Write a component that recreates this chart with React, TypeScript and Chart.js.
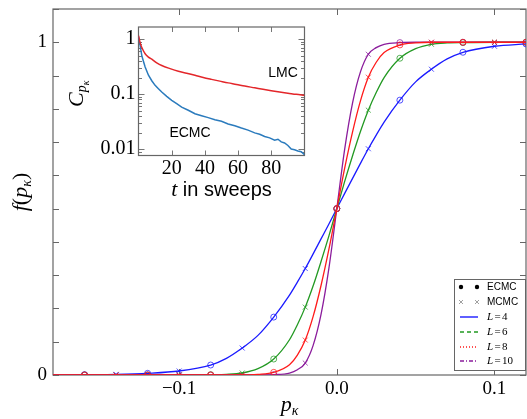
import { useEffect, useRef } from "react";
import { Chart, registerables } from "chart.js";

Chart.register(...registerables);

// ---------- main chart data ----------
const pGrid = [-0.18, -0.16, -0.14, -0.12, -0.1, -0.08, -0.07, -0.06, -0.05, -0.04, -0.03, -0.025, -0.02, -0.015, -0.01, -0.005, 0, 0.005, 0.01, 0.015, 0.02, 0.025, 0.03, 0.04, 0.05, 0.06, 0.07, 0.08, 0.1, 0.12];
const fL4 = [0, 0.001, 0.002, 0.005, 0.012, 0.03, 0.05, 0.081, 0.119, 0.174, 0.24, 0.279, 0.32, 0.364, 0.409, 0.454, 0.5, 0.546, 0.591, 0.636, 0.68, 0.721, 0.76, 0.826, 0.881, 0.919, 0.95, 0.97, 0.988, 0.995];
const fL6 = [0, 0, 0, 0, 0, 0.001, 0.002, 0.006, 0.019, 0.048, 0.106, 0.151, 0.204, 0.268, 0.341, 0.418, 0.5, 0.582, 0.659, 0.732, 0.796, 0.849, 0.894, 0.952, 0.981, 0.994, 0.998, 0.999, 1, 1];
const fL8 = [0, 0, 0, 0, 0, 0, 0, 0, 0.002, 0.008, 0.031, 0.06, 0.105, 0.176, 0.269, 0.378, 0.5, 0.622, 0.731, 0.824, 0.895, 0.94, 0.969, 0.992, 0.998, 1, 1, 1, 1, 1];
const fL10 = [0, 0, 0, 0, 0, 0, 0, 0, 0, 0.001, 0.006, 0.016, 0.036, 0.089, 0.182, 0.321, 0.5, 0.679, 0.818, 0.911, 0.964, 0.984, 0.994, 0.999, 1, 1, 1, 1, 1, 1];

const ecmcP = [-0.16, -0.12, -0.08, -0.04, 0, 0.04, 0.08, 0.12];
const mcmcP = [-0.14, -0.1, -0.06, -0.02, 0.02, 0.06, 0.1];
const ecmcL4 = [0.001, 0.005, 0.03, 0.174, 0.5, 0.826, 0.97, 0.995];
const mcmcL4 = [0.002, 0.012, 0.081, 0.32, 0.68, 0.919, 0.988];
const ecmcL6 = [0, 0, 0.001, 0.048, 0.5, 0.952, 0.999, 1];
const mcmcL6 = [0, 0, 0.006, 0.204, 0.796, 0.994, 1];
const ecmcL8 = [0, 0, 0, 0.008, 0.5, 0.992, 1, 1];
const mcmcL8 = [0, 0, 0, 0.105, 0.895, 1, 1];
const ecmcL10 = [0, 0, 0, 0.001, 0.5, 0.999, 1, 1];
const mcmcL10 = [0, 0, 0, 0.036, 0.964, 1, 1];

const sizeLabels = ["4", "6", "8", "10"];
const methodLabels = ["ECMC", "MCMC"];

const xTickValues = [-0.1, 0, 0.1];
const xTickLabels = ["\u22120.1", "0.0", "0.1"];
const yTickValues = [0, 1];
const yTickLabels = ["0", "1"];
const yInnerTicks = [0, 0.1, 0.2, 0.3, 0.4, 0.5, 0.6, 0.7, 0.8, 0.9, 1, 1.1];

// ---------- inset data ----------
const lmcT = [0, 1, 2, 4, 6, 8, 11, 14, 19, 24, 29, 34, 39, 44, 49, 54, 59, 64, 70, 75, 80, 85, 90, 95, 100];
const lmcC = [1.15, 0.85, 0.7, 0.54, 0.47, 0.43, 0.37, 0.33, 0.29, 0.26, 0.24, 0.22, 0.2, 0.185, 0.172, 0.16, 0.15, 0.14, 0.13, 0.122, 0.115, 0.109, 0.104, 0.099, 0.095];
const ecmcT = [0, 1, 2, 3, 4, 6, 8, 10, 12, 14, 17, 20, 23, 26, 30, 34, 38, 42, 46, 50, 54, 58, 62, 66, 70, 73, 76, 79, 82, 84, 86, 88, 90, 92, 94, 96, 98, 100];
const ecmcC = [1.1, 0.76, 0.5, 0.39, 0.31, 0.22, 0.175, 0.144, 0.125, 0.109, 0.091, 0.077, 0.067, 0.058, 0.051, 0.044, 0.0405, 0.0375, 0.0342, 0.0322, 0.0288, 0.0266, 0.0242, 0.0222, 0.0198, 0.0187, 0.017, 0.0161, 0.0146, 0.0152, 0.0136, 0.013, 0.0117, 0.0101, 0.0098, 0.0093, 0.0090, 0.0080];
const insetXTicks = [20, 40, 60, 80];
const insetXTickLabels = ["20", "40", "60", "80"];
const insetYTicks = [0.01, 0.1, 1];
const insetYTickLabels = ["0.01", "0.1", "1"];
const insetYMinor = [0.008, 0.009, 0.02, 0.03, 0.04, 0.05, 0.06, 0.07, 0.08, 0.09, 0.2, 0.3, 0.4, 0.5, 0.6, 0.7, 0.8, 0.9];

// ---------- styles ----------
const SERIF = "'Liberation Serif', 'DejaVu Serif', serif";
const SANS = "'Liberation Sans', Arial, sans-serif";
const colors = ["#1a1aff", "#229922", "#ff1a1a", "#8b1c9c"];
const dashes = [[], [4, 3], [1, 2], [4, 2, 1, 2]];
const FRAME = "#666";

const pts = (xs: number[], ys: number[]) => xs.map((x, i) => ({ x, y: ys[i] }));
const alpha = (hex: string, a: number) => {
  const n = parseInt(hex.slice(1), 16);
  return `rgba(${(n >> 16) & 255},${(n >> 8) & 255},${n & 255},${a})`;
};

type Piece = { t: string; font: string; dy?: number };
function drawPieces(ctx: CanvasRenderingContext2D, pieces: Piece[], cx: number, y: number) {
  ctx.textAlign = "left";
  ctx.textBaseline = "alphabetic";
  const widths = pieces.map((p) => {
    ctx.font = p.font;
    return ctx.measureText(p.t).width;
  });
  const total = widths.reduce((a, b) => a + b, 0);
  let x = cx - total / 2;
  pieces.forEach((p, i) => {
    ctx.font = p.font;
    ctx.fillText(p.t, x, y + (p.dy || 0));
    x += widths[i];
  });
}

const mainDecor = {
  id: "mainDecor",
  beforeDatasetsDraw(chart: any) {
    const { ctx, chartArea: a, scales } = chart;
    ctx.save();
    ctx.strokeStyle = FRAME;
    ctx.lineWidth = 1.2;
    ctx.strokeRect(a.left, a.top, a.right - a.left, a.bottom - a.top);
    ctx.lineWidth = 1;
    ctx.beginPath();
    xTickValues.forEach((v) => {
      const x = Math.round(scales.x.getPixelForValue(v)) + 0.5;
      ctx.moveTo(x, a.bottom);
      ctx.lineTo(x, a.bottom - 6);
      ctx.moveTo(x, a.top);
      ctx.lineTo(x, a.top + 6);
    });
    yInnerTicks.forEach((v) => {
      const y = Math.round(scales.y.getPixelForValue(v)) + 0.5;
      ctx.moveTo(a.left, y);
      ctx.lineTo(a.left + 6, y);
      ctx.moveTo(a.right, y);
      ctx.lineTo(a.right - 6, y);
    });
    ctx.stroke();
    ctx.restore();
  },
  afterDraw(chart: any) {
    const { ctx, chartArea: a } = chart;
    ctx.save();
    ctx.fillStyle = "#000";
    // x title
    drawPieces(ctx, [
      { t: "p", font: `italic 22px ${SERIF}` },
      { t: "\u03BA", font: `italic 14px ${SERIF}`, dy: 4 },
    ], (a.left + a.right) / 2, 411);
    // y title
    ctx.save();
    ctx.translate(27, (a.top + a.bottom) / 2);
    ctx.rotate(-Math.PI / 2);
    drawPieces(ctx, [
      { t: "f", font: `italic 22px ${SERIF}` },
      { t: "(", font: `22px ${SERIF}` },
      { t: "p", font: `italic 22px ${SERIF}` },
      { t: "\u03BA", font: `italic 14px ${SERIF}`, dy: 4 },
      { t: ")", font: `22px ${SERIF}` },
    ], 0, 0);
    ctx.restore();

    // legend
    const lx = 454, ly = 279, lw = 72, lh = 92;
    ctx.fillStyle = "#fff";
    ctx.fillRect(lx, ly, lw, lh);
    ctx.strokeStyle = FRAME;
    ctx.lineWidth = 1;
    ctx.strokeRect(lx + 0.5, ly + 0.5, lw - 1, lh - 1);
    const rows = [287, 302, 317, 332, 347, 361];
    const g1 = 461, g2 = 477, tx = 487;
    // ECMC
    ctx.fillStyle = "#000";
    [g1, g2].forEach((x) => {
      ctx.beginPath();
      ctx.arc(x, rows[0], 2.2, 0, Math.PI * 2);
      ctx.fill();
    });
    // MCMC
    ctx.strokeStyle = "#888";
    ctx.lineWidth = 0.8;
    [g1, g2].forEach((x) => {
      ctx.beginPath();
      ctx.moveTo(x - 2, rows[1] - 2);
      ctx.lineTo(x + 2, rows[1] + 2);
      ctx.moveTo(x + 2, rows[1] - 2);
      ctx.lineTo(x - 2, rows[1] + 2);
      ctx.stroke();
    });
    ctx.fillStyle = "#000";
    ctx.font = `10px ${SANS}`;
    ctx.textAlign = "left";
    ctx.textBaseline = "middle";
    ctx.fillText(methodLabels[0], tx, rows[0]);
    ctx.fillText(methodLabels[1], tx, rows[1]);
    sizeLabels.forEach((s, i) => {
      const y = rows[2 + i];
      ctx.strokeStyle = colors[i];
      ctx.lineWidth = 1.4;
      ctx.setLineDash(dashes[i]);
      ctx.beginPath();
      ctx.moveTo(g1 - 1, y);
      ctx.lineTo(g2 + 1, y);
      ctx.stroke();
      ctx.setLineDash([]);
      ctx.fillStyle = "#000";
      ctx.textBaseline = "middle";
      ctx.font = `italic 11px ${SERIF}`;
      ctx.fillText("L", tx, y);
      ctx.font = `11px ${SERIF}`;
      ctx.fillText("=", tx + 7.5, y);
      ctx.fillText(s, tx + 15, y);
    });
    ctx.restore();
  },
};

const insetDecor = {
  id: "insetDecor",
  beforeDraw(chart: any) {
    const { ctx, width, height } = chart;
    ctx.save();
    ctx.fillStyle = "#fff";
    ctx.fillRect(0, 0, width, height);
    ctx.restore();
  },
  beforeDatasetsDraw(chart: any) {
    const { ctx, chartArea: a, scales } = chart;
    ctx.save();
    ctx.strokeStyle = FRAME;
    ctx.lineWidth = 1.2;
    ctx.strokeRect(a.left, a.top, a.right - a.left, a.bottom - a.top);
    ctx.lineWidth = 0.9;
    ctx.beginPath();
    insetXTicks.forEach((v) => {
      const x = Math.round(scales.x.getPixelForValue(v)) + 0.5;
      ctx.moveTo(x, a.bottom);
      ctx.lineTo(x, a.bottom - 5);
      ctx.moveTo(x, a.top);
      ctx.lineTo(x, a.top + 5);
    });
    const ytick = (v: number, len: number) => {
      const y = Math.round(scales.y.getPixelForValue(v)) + 0.5;
      ctx.moveTo(a.left, y);
      ctx.lineTo(a.left + len, y);
      ctx.moveTo(a.right, y);
      ctx.lineTo(a.right - len, y);
    };
    insetYTicks.forEach((v) => ytick(v, 6));
    insetYMinor.forEach((v) => ytick(v, 3.5));
    ctx.stroke();
    ctx.restore();
  },
  afterDraw(chart: any) {
    const { ctx, chartArea: a } = chart;
    ctx.save();
    ctx.fillStyle = "#000";
    // annotations
    ctx.font = `14px ${SANS}`;
    ctx.textAlign = "center";
    ctx.textBaseline = "middle";
    ctx.fillText("LMC", 223, 53);
    ctx.fillText("ECMC", 130, 113.5);
    // x title
    ctx.textAlign = "left";
    ctx.textBaseline = "alphabetic";
    ctx.font = `italic 22px ${SERIF}`;
    const wt = ctx.measureText("t").width;
    ctx.font = `20px ${SANS}`;
    const ws = ctx.measureText(" in sweeps").width;
    const cx = (a.left + a.right) / 2;
    let x = cx - (wt + ws) / 2;
    ctx.font = `italic 22px ${SERIF}`;
    ctx.fillText("t", x, 176);
    ctx.font = `20px ${SANS}`;
    ctx.fillText(" in sweeps", x + wt, 176);
    // y title C_{p_kappa}
    ctx.save();
    ctx.translate(23, 87);
    ctx.rotate(-Math.PI / 2);
    let px = 0;
    ctx.font = `italic 22px ${SERIF}`;
    ctx.fillText("C", px, 0);
    px += ctx.measureText("C").width;
    ctx.font = `italic 14px ${SERIF}`;
    ctx.fillText("p", px, 3);
    px += ctx.measureText("p").width;
    ctx.font = `italic 10px ${SERIF}`;
    ctx.fillText("\u03BA", px, 6);
    ctx.restore();
    ctx.restore();
  },
};

export default function App() {
  const mainRef = useRef<HTMLCanvasElement>(null);
  const insetRef = useRef<HTMLCanvasElement>(null);

  useEffect(() => {
    const curves = [fL4, fL6, fL8, fL10];
    const ecmcs = [ecmcL4, ecmcL6, ecmcL8, ecmcL10];
    const mcmcs = [mcmcL4, mcmcL6, mcmcL8, mcmcL10];
    const lineOrder = [4, 3, 1, 2];
    const datasets: any[] = [];
    curves.forEach((c, i) => {
      datasets.push({
        label: "L = " + sizeLabels[i],
        data: pts(pGrid, c),
        borderColor: colors[i],
        borderWidth: 1.3,
        pointRadius: 0,
        cubicInterpolationMode: "monotone",
        fill: false,
        order: lineOrder[i],
      });
      datasets.push({
        label: methodLabels[0] + " " + sizeLabels[i],
        data: pts(ecmcP, ecmcs[i]),
        showLine: false,
        pointStyle: "circle",
        pointRadius: 3,
        pointBorderWidth: 1,
        pointBorderColor: alpha(colors[i], 0.75),
        pointBackgroundColor: "rgba(0,0,0,0)",
        order: lineOrder[i] - 0.5,
      });
      datasets.push({
        label: methodLabels[1] + " " + sizeLabels[i],
        data: pts(mcmcP, mcmcs[i]),
        showLine: false,
        pointStyle: "crossRot",
        pointRadius: 3.5,
        pointBorderWidth: 1,
        pointBorderColor: alpha(colors[i], 0.75),
        pointBackgroundColor: "rgba(0,0,0,0)",
        order: lineOrder[i] - 0.5,
      });
    });

    const main = new Chart(mainRef.current!, {
      type: "line",
      data: { datasets },
      options: {
        animation: false,
        responsive: false,
        devicePixelRatio: 1,
        layout: { autoPadding: false, padding: { left: 0, top: 9, right: 1, bottom: 0 } },
        plugins: { legend: { display: false }, tooltip: { enabled: false } },
        scales: {
          x: {
            type: "linear",
            min: -0.18,
            max: 0.12,
            grid: { display: false, drawTicks: false },
            border: { display: false },
            afterBuildTicks: (s: any) => { s.ticks = xTickValues.map((v) => ({ value: v })); },
            afterFit: (s: any) => { s.height = 44; s.paddingLeft = 0; s.paddingRight = 0; },
            ticks: {
              autoSkip: false,
              maxRotation: 0,
              padding: 3,
              color: "#000",
              font: { family: SERIF, size: 19 },
              callback: (_v: any, i: number) => xTickLabels[i],
            },
          },
          y: {
            type: "linear",
            min: 0,
            max: 1.1,
            grid: { display: false, drawTicks: false },
            border: { display: false },
            afterBuildTicks: (s: any) => { s.ticks = yTickValues.map((v) => ({ value: v })); },
            afterFit: (s: any) => { s.width = 53; s.paddingTop = 0; s.paddingBottom = 0; },
            ticks: {
              autoSkip: false,
              padding: 6,
              color: "#000",
              font: { family: SERIF, size: 19 },
              callback: (_v: any, i: number) => yTickLabels[i],
            },
          },
        },
      } as any,
      plugins: [mainDecor],
    });

    const inset = new Chart(insetRef.current!, {
      type: "line",
      data: {
        datasets: [
          {
            label: "LMC",
            data: pts(lmcT, lmcC),
            borderColor: "#e3262a",
            borderWidth: 1.5,
            pointRadius: 0,
            cubicInterpolationMode: "monotone",
          },
          {
            label: "ECMC",
            data: pts(ecmcT, ecmcC),
            borderColor: "#2b7bbd",
            borderWidth: 1.5,
            pointRadius: 0,
            tension: 0,
          },
        ],
      },
      options: {
        animation: false,
        responsive: false,
        devicePixelRatio: 1,
        layout: { autoPadding: false, padding: { left: 0, top: 7, right: 5.5, bottom: 0 } },
        plugins: { legend: { display: false }, tooltip: { enabled: false } },
        scales: {
          x: {
            type: "linear",
            min: 0,
            max: 100,
            grid: { display: false, drawTicks: false },
            border: { display: false },
            afterBuildTicks: (s: any) => { s.ticks = insetXTicks.map((v) => ({ value: v })); },
            afterFit: (s: any) => { s.height = 49.5; s.paddingLeft = 0; s.paddingRight = 0; },
            ticks: {
              autoSkip: false,
              maxRotation: 0,
              padding: 1,
              color: "#000",
              font: { family: SERIF, size: 20 },
              callback: (_v: any, i: number) => insetXTickLabels[i],
            },
          },
          y: {
            type: "logarithmic",
            min: 0.0077,
            max: 1.65,
            grid: { display: false, drawTicks: false },
            border: { display: false },
            afterBuildTicks: (s: any) => { s.ticks = insetYTicks.map((v) => ({ value: v })); },
            afterFit: (s: any) => { s.width = 78.5; s.paddingTop = 0; s.paddingBottom = 0; },
            ticks: {
              autoSkip: false,
              padding: 3,
              color: "#000",
              font: { family: SERIF, size: 20 },
              callback: (_v: any, i: number) => insetYTickLabels[i],
            },
          },
        },
      } as any,
      plugins: [insetDecor],
    });

    return () => {
      main.destroy();
      inset.destroy();
    };
  }, []);

  return (
    <div style={{ position: "absolute", left: 0, top: 0, width: 527, height: 419, background: "#fff" }}>
      <canvas ref={mainRef} width={527} height={419} style={{ position: "absolute", left: 0, top: 0, width: 527, height: 419 }} />
      <canvas ref={insetRef} width={250} height={185} style={{ position: "absolute", left: 60, top: 20, width: 250, height: 185 }} />
    </div>
  );
}
